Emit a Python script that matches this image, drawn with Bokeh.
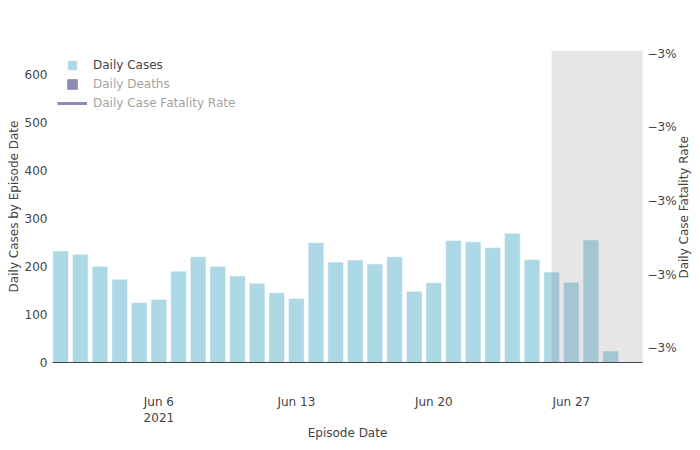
import math
from datetime import datetime
import pandas as pd
from bokeh.plotting import figure
from bokeh.models import (Range1d, LinearAxis, FixedTicker, CustomJSTickFormatter,
                          BoxAnnotation, Legend, LegendItem, ColumnDataSource, DatetimeAxis)
from bokeh.embed import file_html
from bokeh.resources import INLINE

# ---------------- data ----------------
episode_dates = list(pd.date_range("2021-06-01", "2021-06-29", freq="D"))
daily_cases = [232, 225, 200, 173, 125, 131, 190, 220, 200, 180, 165, 145, 133, 249,
               209, 213, 205, 220, 148, 166, 254, 251, 239, 269, 214, 188, 167, 255, 24]
# hidden series (legend-only in the reference, values not shown)
daily_deaths = [float("nan")] * len(episode_dates)
daily_cfr = [float("nan")] * len(episode_dates)

x_tick_dates = [datetime(2021, 6, 6), datetime(2021, 6, 13), datetime(2021, 6, 20), datetime(2021, 6, 27)]
x_tick_labels = ["Jun 6\n2021", "Jun 13", "Jun 20", "Jun 27"]
y_ticks = [0, 100, 200, 300, 400, 500, 600]
cfr_ticks = [-0.0302, -0.0301, -0.0300, -0.0299, -0.0298]
cfr_tick_labels = ["\u22123%", "\u22123%", "\u22123%", "\u22123%", "\u22123%"]
provisional_start = datetime(2021, 6, 26)
provisional_end = datetime(2021, 7, 1)

FONT = "DejaVu Sans"
TXT = "#444444"
DAY_MS = 86400000

p = figure(width=700, height=450, output_backend="svg", toolbar_location=None,
           x_axis_type=None, y_axis_type=None,
           x_range=Range1d(datetime(2021, 5, 31, 14, 0), datetime(2021, 6, 30, 15, 0)),
           y_range=Range1d(0, 649),
           min_border_left=52, min_border_right=50, min_border_top=50, min_border_bottom=88)
p.outline_line_color = None
p.xgrid.visible = False
p.ygrid.visible = False
p.extra_y_ranges = {"cfr": Range1d(-0.03021932, -0.02979562)}

src = ColumnDataSource(dict(x=episode_dates, cases=daily_cases, deaths=daily_deaths, cfr=daily_cfr))
cases_r = p.vbar(x="x", top="cases", width=0.8 * DAY_MS, source=src,
                 fill_color="lightblue", fill_alpha=1.0,
                 line_color="white", line_alpha=0.5, line_width=1)
deaths_r = p.vbar(x="x", top="deaths", width=0.8 * DAY_MS, source=src,
                  fill_color="midnightblue", line_color="midnightblue")
deaths_r.visible = False
cfr_r = p.line(x="x", y="cfr", source=src, y_range_name="cfr", line_color="midnightblue", line_width=3)
cfr_r.visible = False

p.add_layout(BoxAnnotation(left=provisional_start, right=provisional_end,
                           fill_color="gray", fill_alpha=0.2, line_alpha=0))

def style_axis(ax):
    ax.major_label_text_font = FONT
    ax.major_label_text_font_size = "12px"
    ax.major_label_text_color = TXT
    ax.axis_label_text_font = FONT
    ax.axis_label_text_font_size = "12px"
    ax.axis_label_text_color = TXT
    ax.axis_label_text_font_style = "normal"
    ax.major_tick_line_color = None
    ax.minor_tick_line_color = None
    ax.major_tick_out = 0
    ax.major_tick_in = 0

xaxis = DatetimeAxis(ticker=FixedTicker(ticks=[d.timestamp() * 1000 for d in x_tick_dates]),
                     formatter=CustomJSTickFormatter(args=dict(labels=x_tick_labels), code="return labels[index];"),
                     axis_label="Episode Date")
style_axis(xaxis)
xaxis.axis_line_color = "#444444"
xaxis.major_label_standoff = 32
xaxis.major_label_text_line_height = 1.2
xaxis.axis_label_standoff = -2
p.add_layout(xaxis, "below")

yaxis = LinearAxis(ticker=FixedTicker(ticks=y_ticks), axis_label="Daily Cases by Episode Date")
style_axis(yaxis)
yaxis.axis_line_color = None
yaxis.major_label_standoff = 5
yaxis.axis_label_standoff = 1
p.add_layout(yaxis, "left")

# right axis: title reads bottom-to-top; it starts at the axis start, so it is
# pushed up to the middle with non-breaking spaces
raxis = LinearAxis(y_range_name="cfr", ticker=FixedTicker(ticks=cfr_ticks),
                   formatter=CustomJSTickFormatter(args=dict(labels=cfr_tick_labels), code="return labels[index];"),
                   axis_label="\u00a0" * 22 + "Daily Case Fatality Rate")
style_axis(raxis)
raxis.axis_line_color = None
raxis.major_label_standoff = 5
raxis.axis_label_standoff = 4
raxis.axis_label_orientation = math.pi / 2
raxis.axis_label_align = "start"
raxis.axis_label_text_line_height = 0.7
p.add_layout(raxis, "right")

def style_legend(lg):
    lg.label_text_font = FONT
    lg.label_text_font_size = "12px"
    lg.label_text_color = TXT
    lg.background_fill_alpha = 0
    lg.border_line_alpha = 0
    lg.padding = 0
    lg.margin = 0
    lg.click_policy = "hide"
    lg.inactive_fill_color = "white"
    lg.inactive_fill_alpha = 0.5

legA = Legend(items=[LegendItem(label="Daily Cases", renderers=[cases_r]),
                     LegendItem(label="Daily Deaths", renderers=[deaths_r])],
              location=(14, 271), glyph_width=12, glyph_height=12, label_height=12,
              label_standoff=15, spacing=5)
style_legend(legA)
legB = Legend(items=[LegendItem(label="Daily Case Fatality Rate", renderers=[cfr_r])],
              location=(5, 252), glyph_width=30, glyph_height=12, label_height=12,
              label_standoff=6, spacing=3)
style_legend(legB)
p.add_layout(legA)
p.add_layout(legB)

open("out.html", "w").write(file_html(p, INLINE))
